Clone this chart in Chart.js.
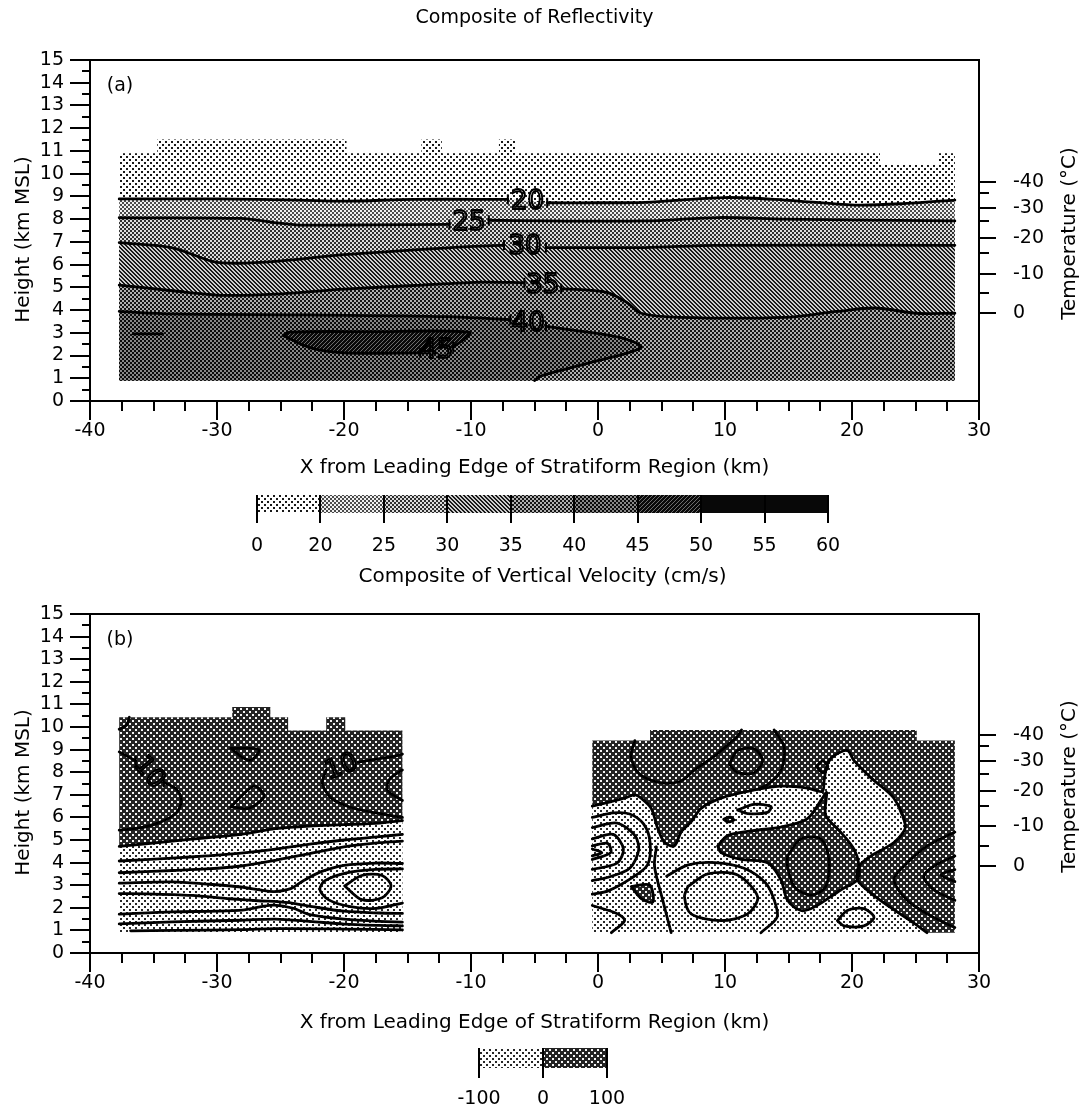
<!DOCTYPE html>
<html><head><meta charset="utf-8">
<script src="https://cdn.jsdelivr.net/npm/chart.js@4.4.0/dist/chart.umd.min.js"></script>
<style>
html,body{margin:0;padding:0;background:#fff;}
#wrap{position:relative;width:1086px;height:1110px;overflow:hidden;background:#fff;}
canvas{position:absolute;left:0;}
</style></head><body>
<div id="wrap">
<canvas id="cA" width="1086" height="480" style="top:0px"></canvas>
<canvas id="cbA" width="1086" height="120" style="top:480px"></canvas>
<canvas id="cB" width="1086" height="440" style="top:600px"></canvas>
<canvas id="cbB" width="1086" height="70" style="top:1040px"></canvas>
</div>
<script>
// ---------------- DATA ----------------
const xRange = [-40, 30];
const hRange = [0, 15];
const xTitle = 'X from Leading Edge of Stratiform Region (km)';
const tempLabels = ['-40', '-30', '-20', '-10', '0'];
const tempHeights = [9.65, 8.5, 7.15, 5.6, 3.85];
const tempMinorHeights = [9.15, 7.9, 6.5, 4.75];

// Panel (a): composite reflectivity (dBZ) contours, points are [x km, height km]
const reflXMin = -37.7, reflXMax = 28.1, reflBase = 0.9;
const reflOutline = [[-37.7,0.9],[-37.7,10.9],[-34.7,10.9],[-34.7,11.5],[-19.8,11.5],[-19.8,10.9],[-13.9,10.9],[-13.9,11.5],[-12.3,11.5],[-12.3,10.9],[-7.8,10.9],[-7.8,11.5],[-6.5,11.5],[-6.5,10.9],[22.2,10.9],[22.2,10.4],[26.8,10.4],[26.8,10.9],[28.1,10.9],[28.1,0.9]];
const refl20 = [[-37.7,8.89],[-30,8.89],[-23.5,8.84],[-20,8.79],[-14.5,8.87],[-7.1,8.87],null,[-4.0,8.72],[0,8.72],[3.7,8.74],[10,8.95],[14.7,8.84],[20.2,8.62],[24.3,8.69],[28.1,8.84]];
const refl25 = [[-37.7,8.06],[-28.1,8.03],[-25.5,7.85],[-23.5,7.74],[-18,7.75],[-11.7,7.77],null,[-8.6,7.95],[-4,7.92],[3.7,7.92],[9.5,8.07],[14.7,8.0],[28.1,7.92]];
const refl30 = [[-37.7,6.97],[-33.5,6.74],[-30.3,6.13],[-28.4,6.06],[-25.4,6.14],[-20,6.44],[-11.8,6.74],[-7.4,6.86],null,[-4.1,6.75],[3.7,6.75],[9.2,6.85],[28.1,6.85]];
const refl35 = [[-37.7,5.1],[-33.5,4.85],[-29.5,4.65],[-25.4,4.7],[-20,4.92],[-14.5,5.08],[-9.1,5.23],[-5.8,5.2],null,[-2.9,4.94],[0.7,4.78],[2.3,4.32],[3.4,3.86],[6.4,3.68],[14.7,3.68],[18.8,3.94],[21.8,4.09],[25.1,3.86],[28.1,3.86]];
const refl40 = [[-37.7,3.94],[-33.5,3.83],[-22.7,3.79],[-11.8,3.71],[-6.9,3.58],null,[-4.1,3.28],[1.8,2.79],[3.4,2.35],[-0.4,1.72],[-4.5,1.1],[-5.0,0.9]];
const refl45 = [[-24.8,2.88],[-24.3,3.03],[-18,3.05],[-10.1,3.03],[-10.7,2.65],[-11.4,2.38],null,[-14.0,2.12],[-20,2.12],[-22.7,2.35],[-24.8,2.88]];
const refl45b = [[-36.6,2.95],[-34.3,2.95]];
const reflLabels = [
  {t:'20', x:-5.55, h:8.8, rot:0}, {t:'25', x:-10.15, h:7.86, rot:0}, {t:'30', x:-5.75, h:6.8, rot:0},
  {t:'35', x:-4.35, h:5.07, rot:0}, {t:'40', x:-5.5, h:3.43, rot:0}, {t:'45', x:-12.7, h:2.22, rot:0}
];
const reflBarLabels = ['0','20','25','30','35','40','45','50','55','60'];

// Panel (b): composite vertical velocity (cm/s) contours
const wLeftBlock = [[-37.7,0.9],[-37.7,10.43],[-28.8,10.43],[-28.8,10.89],[-25.8,10.89],[-25.8,10.43],[-24.4,10.43],[-24.4,9.85],[-21.4,9.85],[-21.4,10.43],[-19.9,10.43],[-19.9,9.85],[-15.4,9.85],[-15.4,0.9]];
const wLeftZero = [[-37.7,4.72],[-33.5,4.95],[-30.8,5.1],[-28.1,5.25],[-25.4,5.5],[-22.7,5.62],[-20,5.68],[-17.2,5.75],[-15.4,5.86]];
const wL_a = [[-37.7,4.07],[-33.5,4.2],[-30.8,4.3],[-28.1,4.42],[-25.4,4.6],[-22.7,4.82],[-20,5.0],[-17.2,5.15],[-15.4,5.25]];
const wL_b = [[-37.7,3.55],[-33.5,3.65],[-30.8,3.72],[-28.1,3.85],[-25.4,4.1],[-22.7,4.4],[-20,4.7],[-17.2,4.88],[-15.4,4.95]];
const wL_c = [[-37.7,3.09],[-33.5,3.15],[-30.8,3.05],[-28.1,2.92],[-26.5,2.78],[-25.5,2.72],[-24.2,2.85],[-23.2,3.2],[-21.8,3.6],[-20,3.88],[-17.5,3.98],[-15.4,3.96]];
const wL_ring = [[-15.4,3.72],[-17.5,3.7],[-19.8,3.55],[-21.5,3.2],[-21.9,2.8],[-21.2,2.35],[-19.5,2.05],[-17.5,1.97],[-15.4,2.21]];
const wL_core = [[-19.95,2.97],[-18.6,3.43],[-17.0,3.43],[-16.3,2.97],[-17.0,2.44],[-18.6,2.36],[-19.95,2.97]];
const wL_d = [[-37.7,2.63],[-35.5,2.62],[-32,2.55],[-29,2.4],[-26.5,2.3],[-25.5,2.28],[-24,2.2],[-22.5,2.05],[-20,1.85],[-17.2,1.77],[-15.4,1.75]];
const wL_e = [[-37.7,1.72],[-33.5,1.82],[-30,1.85],[-28,1.9],[-26.5,2.05],[-25.5,2.12],[-24,1.98],[-22.7,1.7],[-20,1.5],[-17.2,1.4],[-15.4,1.37]];
const wL_f = [[-37.7,1.29],[-33.5,1.38],[-28.1,1.45],[-25.4,1.5],[-22.7,1.4],[-20,1.28],[-17.2,1.22],[-15.4,1.2]];
const wL_g = [[-36.8,0.98],[-33.5,1.0],[-28.1,1.03],[-25.4,1.08],[-20,1.06],[-15.4,1.02]];
const wL_s = [[-37.7,8.9],[-36.4,8.5],null,[-34.2,7.55],[-33.2,7.25],[-32.8,6.75],[-33.2,6.2],[-34.5,5.78],[-36.2,5.52],[-37.7,5.44]];
const wL_arc = [[-37.7,9.9],[-37.1,10.1],[-36.9,10.43]];
const wL_tri = [[-28.9,9.06],[-26.7,9.0],[-27.3,8.53],[-28.0,8.65],[-28.9,9.06]];
const wL_dia = [[-28.9,6.47],[-27.1,7.39],[-26.3,6.93],[-27.5,6.4],[-28.9,6.47]];
const wL_r1 = [[-21.4,8.1],[-21.7,7.5],[-21.0,6.85],[-19.5,6.45],[-17.5,6.2],[-15.4,6.0]];
const wL_r2 = [[-18.9,8.45],[-16.1,8.7],[-15.4,8.8]];
const wL_r3 = [[-15.4,8.1],[-16.4,7.7],[-16.6,7.2],[-15.4,6.75]];

const wRightBlock = [[-0.45,0.9],[-0.45,9.4],[4.1,9.4],[4.1,9.87],[25.1,9.87],[25.1,9.4],[28.1,9.4],[28.1,0.9]];
const wR_edge = [[25.9,0.9],[24.6,1.43],[23.0,2.03],[21.5,2.64],[20.42,3.24],[20.55,3.84],[21.47,4.29],[23.3,4.89],[24.2,5.57],[23.3,6.85],[21.47,7.76],[20.16,8.51],[19.63,8.96],[18.6,8.73],[18.06,8.36],[17.8,7.6],[17.67,7.15],[16.49,7.3],[14.4,7.38],[11.78,7.15],[9.69,6.85],[8.12,6.4],[7.33,5.8],[6.54,5.35],[6.02,4.74],[5.24,4.89],[4.71,5.5],[4.19,6.4],[3.4,6.85],[2.88,7.0],[2.09,6.85],[1.05,6.7],[-0.45,6.5]];
const wR_D2 = [[9.42,4.74],[10.21,5.2],[12.3,5.42],[14.4,5.57],[16.49,5.95],[17.67,6.85],[18.0,7.1],[17.93,6.1],[19.11,5.35],[20.16,4.59],[20.55,3.84],[20.42,3.24],[19.11,2.79],[17.02,2.03],[15.97,1.88],[14.92,2.33],[14.4,3.24],[13.35,3.99],[11.26,4.14],[9.69,4.44],[9.42,4.74]];
const wR_D3 = [[2.62,2.94],[4.06,3.01],[4.32,2.26],[3.4,2.41],[2.62,2.94]];
const wR_D4 = [[9.9,5.92],[10.4,6.02],[10.7,5.88],[10.2,5.8],[9.9,5.92]];
const wR_D5 = [[17.2,8.25],[17.7,8.5],[18.1,8.25],[17.7,7.98],[17.2,8.25]];
const wR_oval = [[14.92,4.29],[15.97,5.05],[17.54,5.05],[18.19,4.14],[17.93,2.94],[16.75,2.56],[15.45,2.94],[14.92,3.84],[14.92,4.29]];
const wR_band = [[10.99,6.33],[12.3,6.58],[13.61,6.48],[13.35,6.22],[11.78,6.17],[10.99,6.33]];
const wR_T1 = [[2.9,9.4],[2.6,8.7],[3.2,7.95],[4.8,7.55],[6.5,7.6],[7.6,8.1],[8.9,8.6],[10.0,9.1],[11.0,9.6],[11.3,9.87]];
const wR_T2 = [[10.34,8.36],[10.99,8.96],[12.3,9.04],[12.96,8.51],[12.3,7.98],[10.99,7.98],[10.34,8.36]];
const wR_T3 = [[13.87,9.87],[14.66,9.11],[14.4,8.06],[13.35,7.45],[12.6,7.25]];
const wR_C1 = [[28.1,5.35],[25.92,4.74],[24.08,3.84],[23.3,3.24],[24.35,2.33],[25.92,1.73],[27.49,1.28],[28.1,1.13]];
const wR_C2 = [[28.1,4.29],[26.44,3.84],[25.65,3.39],[26.44,2.79],[28.1,2.33]];
const wR_C3 = [[28.1,3.69],[27.0,3.46],[28.1,3.16]];
const wR_N1 = [[-0.45,6.0],[1.2,6.2],[2.5,6.15],[3.6,5.7],[4.1,4.9],[3.9,3.9],[2.6,3.3],[0.8,2.75],[-0.45,2.6]];
const wR_N2 = [[-0.45,5.55],[1.5,5.75],[2.9,5.2],[3.2,4.55],[2.5,3.75],[0.8,3.35],[-0.45,3.2]];
const wR_N3 = [[-0.45,5.05],[1.2,5.25],[2.0,4.6],[1.5,3.98],[-0.45,3.7]];
const wR_N4 = [[-0.45,4.74],[0.75,4.85],[1.0,4.44],[-0.45,4.14]];
const wR_N5 = [[-0.45,4.6],[0.3,4.44],[-0.45,4.3]];
const wR_LL = [[-0.45,2.1],[1.57,1.73],[2.09,1.43],[1.05,0.9]];
const wR_R1 = [[7.07,2.94],[8.64,3.5],[10.99,3.45],[12.57,2.48],[11.78,1.73],[9.69,1.43],[7.33,1.73],[6.81,2.48],[7.07,2.94]];
const wR_R2 = [[5.4,3.4],[7.1,3.9],[9.2,4.0],[11.5,3.75],[13.2,3.1],[13.9,2.3],[14.1,1.58],[12.83,0.9]];
const wR_R3 = [[4.6,4.7],[4.45,3.84],[5.1,2.33],[5.76,0.9]];
const wR_small = [[18.85,1.43],[19.63,1.88],[20.94,1.96],[21.73,1.58],[20.94,1.2],[19.37,1.2],[18.85,1.43]];
const wLabels = [{t:'10', x:-35.3, h:8.0, rot:50}, {t:'10', x:-20.2, h:8.25, rot:-20}];
const wBarLabels = ['-100','0','100'];

// ---------------- PATTERNS ----------------
function pix(n, fn) {
  const c = document.createElement('canvas'); c.width = n; c.height = n;
  const g = c.getContext('2d'); const im = g.createImageData(n, n);
  for (let y = 0; y < n; y++) for (let x = 0; x < n; x++) {
    const v = fn(x, y); const k = (y * n + x) * 4;
    im.data[k] = im.data[k+1] = im.data[k+2] = v; im.data[k+3] = 255;
  }
  g.putImageData(im, 0, 0);
  return g.createPattern(c, 'repeat');
}
const dot6 = (x, y) => (x < 2 && y < 2) || (x >= 3 && x < 5 && y >= 3 && y < 5);
const chk2 = (x, y) => ((x >> 1) + (y >> 1)) % 2 === 0;
const PAT = {
  p0: pix(6, (x, y) => dot6(x, y) ? 25 : 255),
  p1: pix(4, (x, y) => chk2(x, y) ? 75 : 240),
  p2: pix(4, (x, y) => chk2(x, y) ? 45 : 220),
  p3: pix(4, (x, y) => ((x - y + 8) % 4) < 2 ? 25 : 205),
  p4: pix(4, (x, y) => chk2(x, y) ? 20 : 175),
  p5: pix(4, (x, y) => chk2(x, y) ? 10 : 135),
  p6: pix(4, (x, y) => ((x + y) % 4) < 3 ? 10 : 110),
  p7: pix(2, () => 8),
  wl: pix(6, (x, y) => dot6(x, y) ? 40 : 255),
  wd: pix(6, (x, y) => dot6(x, y) ? 245 : 35)
};

// ---------------- HELPERS ----------------
Chart.defaults.font.family = "'DejaVu Sans', sans-serif";
Chart.defaults.color = '#000';

const toPts = arr => arr.map(p => p ? {x: p[0], y: p[1]} : {x: null, y: null});
function fillDs(arr, pattern, order) {
  return {data: toPts(arr.filter(Boolean)), fill: 'shape', backgroundColor: pattern,
          borderWidth: 0, pointRadius: 0, tension: 0, order: order};
}
function lineDs(arr, width) {
  return {data: toPts(arr), fill: false, borderColor: '#000', borderWidth: width || 2.8,
          pointRadius: 0, tension: 0.3, order: 1, spanGaps: false, raw: arr,
          borderJoinStyle: 'round', borderCapStyle: 'round'};
}

const deco = {
  id: 'deco',
  afterDraw(chart, args, o) {
    if (!o || !o.kind) return;
    const ctx = chart.ctx, ca = chart.chartArea, xs = chart.scales.x;
    ctx.save();
    ctx.strokeStyle = '#000'; ctx.fillStyle = '#000'; ctx.lineWidth = 2;
    if (o.kind === 'bar') {
      for (let v = xs.min; v <= xs.max; v++) {
        const px = Math.round(xs.getPixelForValue(v));
        ctx.beginPath(); ctx.moveTo(px, ca.top); ctx.lineTo(px, ca.bottom + 10); ctx.stroke();
      }
      ctx.restore(); return;
    }
    const ys = chart.scales.y, yt = chart.scales.yT;
    // contour labels
    ctx.font = "26px 'DejaVu Sans', sans-serif";
    ctx.textAlign = 'center'; ctx.textBaseline = 'middle';
    (o.labels || []).forEach(l => {
      ctx.save();
      ctx.translate(xs.getPixelForValue(l.x), ys.getPixelForValue(l.h));
      ctx.rotate((l.rot || 0) * Math.PI / 180);
      ctx.lineWidth = 2; ctx.strokeText(l.t, 0, 1);
      ctx.restore();
    });
    // small end bars at label gaps
    chart.data.datasets.forEach(ds => {
      const r = ds.raw; if (!r) return;
      for (let i = 0; i < r.length; i++) {
        if (!r[i]) continue;
        if ((i > 0 && r[i-1] === null) || (i < r.length - 1 && r[i+1] === null)) {
          const px = xs.getPixelForValue(r[i][0]), py = ys.getPixelForValue(r[i][1]);
          ctx.lineWidth = 2; ctx.beginPath(); ctx.moveTo(px, py - 5); ctx.lineTo(px, py + 5); ctx.stroke();
        }
      }
    });
    // frame
    ctx.lineWidth = 2;
    ctx.strokeRect(ca.left, ca.top, ca.right - ca.left, ca.bottom - ca.top);
    // x ticks
    for (let v = xs.min; v <= xs.max + 1e-9; v += 2.5) {
      const major = Math.abs(v / 10 - Math.round(v / 10)) < 1e-6;
      const px = Math.round(xs.getPixelForValue(v));
      ctx.beginPath(); ctx.moveTo(px, ca.bottom); ctx.lineTo(px, ca.bottom + (major ? 19 : 10)); ctx.stroke();
    }
    // y ticks
    for (let v = ys.min; v <= ys.max + 1e-9; v += 0.5) {
      const major = Math.abs(v - Math.round(v)) < 1e-6;
      const py = Math.round(ys.getPixelForValue(v));
      ctx.beginPath(); ctx.moveTo(ca.left - (major ? 20 : 8), py); ctx.lineTo(ca.left, py); ctx.stroke();
    }
    // temperature ticks
    tempHeights.forEach(v => {
      const py = Math.round(yt.getPixelForValue(v));
      ctx.beginPath(); ctx.moveTo(ca.right, py); ctx.lineTo(ca.right + 17, py); ctx.stroke();
    });
    tempMinorHeights.forEach(v => {
      const py = Math.round(yt.getPixelForValue(v));
      ctx.beginPath(); ctx.moveTo(ca.right, py); ctx.lineTo(ca.right + 10, py); ctx.stroke();
    });
    // axis titles
    const cy = (ca.top + ca.bottom) / 2;
    ctx.font = "20px 'DejaVu Sans', sans-serif";
    ctx.textAlign = 'center'; ctx.textBaseline = 'middle';
    ctx.save(); ctx.translate(24, cy + 9); ctx.rotate(-Math.PI / 2); ctx.fillText('Height (km MSL)', 0, 0); ctx.restore();
    ctx.save(); ctx.translate(1070, cy + 3); ctx.rotate(-Math.PI / 2); ctx.fillText('Temperature (°C)', 0, 0); ctx.restore();
    // panel label
    ctx.font = "19px 'DejaVu Sans', sans-serif";
    ctx.fillText(o.panel, ca.left + 30, ca.top + 26);
    if (o.title) ctx.fillText(o.title, (ca.left + ca.right) / 2, 18);
    ctx.restore();
  }
};

function panelChart(id, datasets, decoOpts, geom) {
  const noGrid = {display: false, drawTicks: false};
  const fitV = w => s => { s.width = w; s.paddingTop = 0; s.paddingBottom = 0; };
  return new Chart(document.getElementById(id), {
    type: 'line',
    data: {datasets: datasets},
    options: {
      responsive: false, animation: false, events: [],
      layout: {padding: {top: geom.top, left: 0, right: 0, bottom: 0}},
      plugins: {legend: {display: false}, tooltip: {enabled: false}, deco: decoOpts},
      scales: {
        x: {type: 'linear', min: xRange[0], max: xRange[1], grid: noGrid, border: {display: false},
            ticks: {stepSize: 10, padding: 19, font: {size: 19}, autoSkip: false, maxRotation: 0, callback: v => String(v)},
            title: {display: true, text: xTitle, font: {size: 20}, padding: {top: 0, bottom: geom.titlePad}},
            afterFit: s => { s.height = geom.xh; s.paddingLeft = 0; s.paddingRight = 0; }},
        y: {type: 'linear', position: 'left', min: hRange[0], max: hRange[1], grid: noGrid, border: {display: false},
            ticks: {stepSize: 1, padding: 26, font: {size: 19}, autoSkip: false, callback: v => String(v)},
            afterFit: fitV(90)},
        yT: {type: 'linear', position: 'right', min: hRange[0], max: hRange[1], grid: noGrid, border: {display: false},
            afterBuildTicks: s => { s.ticks = tempHeights.map(v => ({value: v})); },
            ticks: {padding: 34, font: {size: 19}, autoSkip: false, callback: (v, i) => tempLabels[i]},
            afterFit: fitV(107)}
      }
    },
    plugins: [deco]
  });
}

function barChart(id, labels, patterns, pad, axisH, labPad, title, titlePad) {
  return new Chart(document.getElementById(id), {
    type: 'bar',
    data: {labels: ['c'], datasets: patterns.map(p => ({data: [1], backgroundColor: p, borderWidth: 0, barPercentage: 1, categoryPercentage: 1}))},
    options: {
      indexAxis: 'y', responsive: false, animation: false, events: [],
      layout: {padding: pad},
      plugins: {legend: {display: false}, tooltip: {enabled: false}, deco: {kind: 'bar'}},
      scales: {
        x: {type: 'linear', stacked: true, min: 0, max: labels.length - 1, grid: {display: false, drawTicks: false}, border: {display: false},
            ticks: {stepSize: 1, padding: labPad, font: {size: 19}, autoSkip: false, maxRotation: 0, callback: v => labels[v]},
            title: title ? {display: true, text: title, font: {size: 20}, padding: {top: 0, bottom: titlePad}} : {display: false},
            afterFit: s => { s.height = axisH; s.paddingLeft = 0; s.paddingRight = 0; }},
        y: {display: false, stacked: true}
      }
    },
    plugins: [deco]
  });
}

// ---------------- PANEL (a) ----------------
const bandPoly = arr => arr.filter(Boolean).concat([[reflXMax, reflBase], [reflXMin, reflBase]]);
const dsA = [
  lineDs(refl20), lineDs(refl25), lineDs(refl30), lineDs(refl35), lineDs(refl40), lineDs(refl45), lineDs(refl45b),
  fillDs(refl45, PAT.p6, 14),
  fillDs(refl40.filter(Boolean).concat([[reflXMin, reflBase]]), PAT.p5, 15),
  fillDs(bandPoly(refl35), PAT.p4, 16),
  fillDs(bandPoly(refl30), PAT.p3, 17),
  fillDs(bandPoly(refl25), PAT.p2, 18),
  fillDs(bandPoly(refl20), PAT.p1, 19),
  fillDs(reflOutline, PAT.p0, 20)
];
panelChart('cA', dsA, {kind: 'panel', panel: '(a)', title: 'Composite of Reflectivity', labels: reflLabels},
           {top: 60, xh: 79, titlePad: 0});

barChart('cbA', reflBarLabels, [PAT.p0, PAT.p1, PAT.p2, PAT.p3, PAT.p4, PAT.p5, PAT.p6, PAT.p7, PAT.p7],
         {top: 15, left: 257, right: 258, bottom: 0}, 87, 22, 'Composite of Vertical Velocity (cm/s)', 11);

// ---------------- PANEL (b) ----------------
const wLines = [wLeftZero, wL_a, wL_b, wL_c, wL_ring, wL_core, wL_d, wL_e, wL_f, wL_g, wL_s, wL_arc, wL_tri, wL_dia, wL_r1, wL_r2, wL_r3,
  wR_edge, wR_D2, wR_D3, wR_D4, wR_D5, wR_oval, wR_band, wR_T1, wR_T2, wR_T3, wR_C1, wR_C2, wR_C3,
  wR_N1, wR_N2, wR_N3, wR_N4, wR_N5, wR_LL, wR_R1, wR_R2, wR_R3, wR_small];
const dsB = wLines.map(a => lineDs(a)).concat([
  fillDs(wR_D2, PAT.wd, 18), fillDs(wR_D3, PAT.wd, 18), fillDs(wR_D4, PAT.wd, 18), fillDs(wR_D5, PAT.wd, 18),
  fillDs(wLeftBlock.slice(1, -1).concat(wLeftZero.slice().reverse()), PAT.wd, 19),
  fillDs(wRightBlock.slice(1).concat(wR_edge), PAT.wd, 19),
  fillDs(wLeftBlock, PAT.wl, 20),
  fillDs(wRightBlock, PAT.wl, 20)
]);
panelChart('cB', dsB, {kind: 'panel', panel: '(b)', labels: wLabels}, {top: 14, xh: 87, titlePad: 5});

barChart('cbB', wBarLabels, [PAT.wl, PAT.wd], {top: 8, left: 479, right: 479, bottom: 0}, 42, 20, null, 0);
</script>
</body></html>
